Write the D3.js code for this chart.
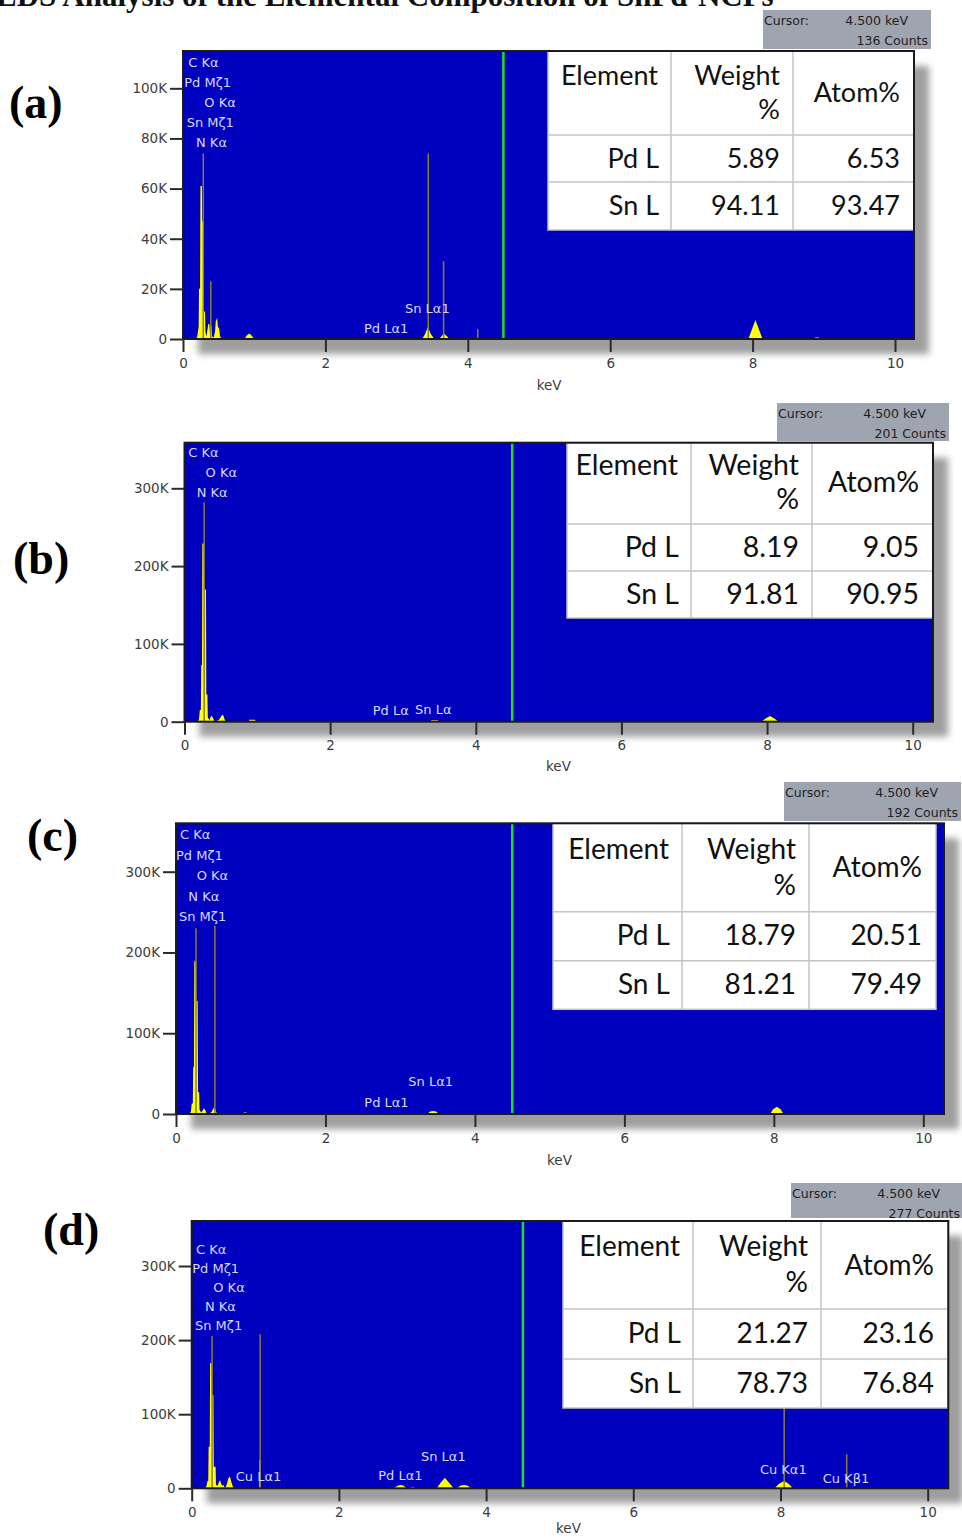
<!DOCTYPE html>
<html><head><meta charset="utf-8">
<script src="https://cdn.jsdelivr.net/npm/d3@7"></script>
<style>
html,body{margin:0;padding:0;background:#fff;}
svg{display:block;}
</style></head><body>
<svg id="c" width="962" height="1538"></svg>
<script>
// ================= DATA =================
const titleText = "EDS Analysis of the Elemental Composition of SnPd-NCPs";
const panelNames = ["(a)", "(b)", "(c)", "(d)"];
const xTicks = [0, 2, 4, 6, 8, 10];
const yTicksA = [0, 20, 40, 60, 80, 100];          // thousands of counts
const yTicksBCD = [0, 100, 200, 300];              // thousands of counts
const cursorKeV = 4.5;
const cursorCounts = [136, 201, 192, 277];
const tableHeader = ["Element", "Weight %", "Atom%"];
const elements = ["Pd L", "Sn L"];
const weightA = ["5.89", "94.11"],  atomA = ["6.53", "93.47"];
const weightB = ["8.19", "91.81"],  atomB = ["9.05", "90.95"];
const weightC = ["18.79", "81.21"], atomC = ["20.51", "79.49"];
const weightD = ["21.27", "78.73"], atomD = ["23.16", "76.84"];

// spectra: [keV, counts in thousands]
const specA = [[0,0],[0.18,0],[0.20,1],[0.22,5],[0.225,20],[0.24,20],[0.245,61],[0.265,61],[0.27,47],[0.29,47],[0.295,11],[0.31,11],[0.315,3],[0.33,1],[0.34,3],[0.355,6],[0.37,6],[0.38,2],[0.39,6],[0.40,5],[0.41,1],[0.43,0.5],[0.45,3],[0.46,7],[0.48,8.5],[0.49,5],[0.51,4],[0.52,1],[0.55,0],
  [0.86,0],[0.90,1.5],[0.93,2.2],[0.96,1.5],[1.0,0],
  [3.36,0],[3.40,2],[3.44,4.8],[3.48,2],[3.53,0],
  [3.60,0],[3.64,1.5],[3.67,2],[3.71,1],[3.74,0],
  [7.94,0],[8.04,7.6],[8.14,0],
  [8.86,0],[8.88,0.6],[8.93,0.6],[8.95,0],[10.5,0]];
const specB = [[0,0],[0.18,0],[0.20,3],[0.21,15],[0.225,15],[0.23,73],[0.24,73],[0.245,229],[0.265,229],[0.27,170],[0.295,170],[0.30,35],[0.315,35],[0.32,6],[0.34,2],[0.36,6],[0.37,8],[0.39,5],[0.41,1],[0.44,0.5],[0.48,3],[0.51,8],[0.53,9],[0.55,3],[0.57,0],
  [0.88,0],[0.89,2.5],[0.97,2.5],[0.98,0],
  [3.38,0],[3.39,2],[3.48,2],[3.49,0],
  [7.92,0],[7.98,4],[8.04,7.3],[8.10,4],[8.16,0],[10.5,0]];
const specC = [[0,0],[0.18,0],[0.20,3],[0.21,13],[0.225,13],[0.23,58],[0.24,58],[0.245,189],[0.265,189],[0.27,140],[0.29,140],[0.295,27],[0.31,27],[0.315,5],[0.34,2],[0.36,5],[0.375,7],[0.39,5],[0.41,1],[0.45,0.5],[0.48,3],[0.50,7],[0.52,7],[0.54,2],[0.56,0],
  [0.89,0],[0.91,2],[0.94,2],[0.96,0],
  [3.36,0],[3.40,3],[3.44,3.7],[3.48,3],[3.52,0],
  [3.63,0],[3.67,1],[3.70,0],
  [7.95,0],[7.99,6],[8.04,9],[8.09,6],[8.13,0],[10.5,0]];
const specD = [[0,0],[0.18,0],[0.20,3],[0.215,10],[0.225,10],[0.23,56],[0.245,56],[0.25,169],[0.27,169],[0.275,126],[0.295,126],[0.30,29],[0.325,29],[0.33,5],[0.35,3],[0.37,8],[0.385,11],[0.40,6],[0.42,3],[0.43,5],[0.44,2],[0.46,1],[0.48,6],[0.50,14],[0.52,15.6],[0.54,8],[0.56,2],[0.58,0],
  [0.915,0],[0.92,38],[0.935,38],[0.94,0],
  [2.74,0],[2.80,3.5],[2.84,4.5],[2.88,3.5],[2.92,0],
  [2.96,0],[3.00,2],[3.04,0],
  [3.33,0],[3.38,7],[3.44,14.3],[3.50,7],[3.56,0],
  [3.60,0],[3.65,3.5],[3.70,4.5],[3.75,3.5],[3.80,0],
  [7.92,0],[7.98,6],[8.05,9.8],[8.11,6],[8.17,0],[10.5,0]];

// element marker lines: [keV, height in thousands]
const markersA = [[0.285,74],[0.39,23],[3.445,74],[3.66,31],[4.14,4]];
const markersB = [[0.27,282]];
const markersC = [[0.268,230],[0.52,233]];
const markersD = [[0.277,206],[0.93,208],[8.05,215],[8.90,46]];

// peak labels: [text, keV, counts(thousands)] anchor of the text start / baseline
const labelsA = [["C Kα",0.074,108.6],["Pd Mζ1",0.018,100.4],["O Kα",0.30,92.4],["Sn Mζ1",0.052,84.4],["N Kα",0.183,76.5],["Sn Lα1",3.118,10.5],["Pd Lα1",2.542,2.3]];
const labelsB = [["C Kα",0.052,340],["O Kα",0.29,314],["N Kα",0.167,289],["Pd Lα",2.585,8.6],["Sn Lα",3.166,9.5]];
const labelsC = [["C Kα",0.054,340],["Pd Mζ1",0.0,315],["O Kα",0.277,289.6],["N Kα",0.165,264],["Sn Mζ1",0.04,239],["Sn Lα1",3.109,34.7],["Pd Lα1",2.52,9]];
const labelsD = [["C Kα",0.058,316],["Pd Mζ1",0.008,290],["O Kα",0.293,264.5],["N Kα",0.18,239],["Sn Mζ1",0.045,213.6],["Cu Lα1",0.598,9.9],["Pd Lα1",2.535,11.2],["Sn Lα1",3.115,36.8],["Cu Kα1",7.72,18.9],["Cu Kβ1",8.573,7.6]];

// ================= LAYOUT (pixels) =================
const layout = [
  {plot:[183,51,914,339], x10:895, yRef:[100,88.3], tx:[548,671,793,914], ty:[51,135,182,230], tfs:27, cur:[763,10,931,49], lab:[9,118], keV:[536.7,390]},
  {plot:[184.5,442.7,933,721.7], x10:912.7, yRef:[300,488.3], tx:[567,691,812,933], ty:[442.7,524,571,618], tfs:28.5, cur:[777,403,949,441], lab:[13,574], keV:[546,771]},
  {plot:[176,823.3,944,1114], x10:923.3, yRef:[300,871.7], tx:[553,682,809,936], ty:[823.3,911.7,960.7,1009.3], tfs:28, cur:[784,782,961,821], lab:[27,851], keV:[547,1165]},
  {plot:[191.7,1221,948.3,1488.3], x10:927.7, yRef:[300,1266], tx:[563,693,821,948], ty:[1221,1309,1359,1408], tfs:28, cur:[791,1183,963,1218], lab:[43,1245], keV:[556,1533]}
];

const panels = [
  {spec:specA, markers:markersA, labels:labelsA, weight:weightA, atom:atomA, yTicks:yTicksA},
  {spec:specB, markers:markersB, labels:labelsB, weight:weightB, atom:atomB, yTicks:yTicksBCD},
  {spec:specC, markers:markersC, labels:labelsC, weight:weightC, atom:atomC, yTicks:yTicksBCD},
  {spec:specD, markers:markersD, labels:labelsD, weight:weightD, atom:atomD, yTicks:yTicksBCD}
];

// ================= DRAW =================
const svg = d3.select("#c");
const defs = svg.append("defs");
defs.append("filter").attr("id","blur").attr("x","-10%").attr("y","-10%").attr("width","130%").attr("height","130%")
  .append("feGaussianBlur").attr("stdDeviation",3.5);

svg.append("text").attr("x",-4).attr("y",6)
  .attr("font-family","Liberation Serif").attr("font-weight","bold").attr("font-size",31)
  .attr("fill","#111").text(titleText);

const tickFont = "DejaVu Sans";

panels.forEach((p,i) => {
  const L = layout[i];
  const [x0,y0,x1,y1] = L.plot;
  const x = d3.scaleLinear().domain([0,10]).range([x0, L.x10]);
  const y = d3.scaleLinear().domain([0, L.yRef[0]]).range([y1, L.yRef[1]]);
  const g = svg.append("g");

  // drop shadow
  g.append("rect").attr("x",x0+15).attr("y",y0+15).attr("width",x1-x0).attr("height",y1-y0)
    .attr("fill","#9e9e9e").attr("filter","url(#blur)");
  // plot background
  g.append("rect").attr("x",x0).attr("y",y0).attr("width",x1-x0).attr("height",y1-y0).attr("fill","#0000bf");

  defs.append("clipPath").attr("id","clip"+i).append("rect")
    .attr("x",x0).attr("y",y0).attr("width",x1-x0).attr("height",y1-y0);
  const inner = g.append("g").attr("clip-path",`url(#clip${i})`);

  const area = d3.area().x(d => x(d[0])).y0(y(0)).y1(d => y(d[1])).curve(d3.curveLinear);
  inner.append("path").datum(p.spec).attr("d",area).attr("fill","#ffff00");

  inner.selectAll("line.mk").data(p.markers).join("line").attr("class","mk")
    .attr("x1",d => x(d[0])).attr("x2",d => x(d[0]))
    .attr("y1",y(0)).attr("y2",d => y(d[1]))
    .attr("stroke","#8a7d3c").attr("stroke-width",1.5);

  inner.append("line").attr("x1",x(cursorKeV)).attr("x2",x(cursorKeV)).attr("y1",y0).attr("y2",y1)
    .attr("stroke","#1fe01f").attr("stroke-width",2.5);

  inner.selectAll("text.pk").data(p.labels).join("text").attr("class","pk")
    .attr("x",d => x(d[1])).attr("y",d => y(d[2]))
    .attr("font-family",tickFont).attr("font-size",13).attr("fill","#d8d8ff")
    .text(d => d[0]);

  // table
  const tg = g.append("g");
  const tx = L.tx, ty = L.ty;
  tg.append("rect").attr("x",tx[0]).attr("y",ty[0]).attr("width",tx[3]-tx[0]).attr("height",ty[3]-ty[0])
    .attr("fill","#ffffff").attr("stroke","#c4c4c4").attr("stroke-width",1.5);
  [1,2].forEach(k => tg.append("line").attr("x1",tx[k]).attr("x2",tx[k]).attr("y1",ty[0]).attr("y2",ty[3]).attr("stroke","#c4c4c4").attr("stroke-width",1.5));
  [1,2].forEach(k => tg.append("line").attr("x1",tx[0]).attr("x2",tx[3]).attr("y1",ty[k]).attr("y2",ty[k]).attr("stroke","#c4c4c4").attr("stroke-width",1.5));
  const tfont = (sel) => sel.attr("font-family","Lato").attr("font-size",L.tfs).attr("fill","#111").attr("text-anchor","end");
  const H = ty[1]-ty[0];
  // header
  tg.append("text").call(tfont).attr("x",tx[1]-13).attr("y",ty[0]+H*0.40).text(tableHeader[0]);
  const wParts = tableHeader[1].split(" ");
  tg.append("text").call(tfont).attr("x",tx[2]-13).attr("y",ty[0]+H*0.40).text(wParts[0]);
  tg.append("text").call(tfont).attr("x",tx[2]-13).attr("y",ty[0]+H*0.81).text(wParts[1]);
  tg.append("text").call(tfont).attr("x",tx[3]-14).attr("y",ty[0]+H*0.61).text(tableHeader[2]);
  elements.forEach((el,r) => {
    const cy = (ty[r+1]+ty[r+2])/2 + 9;
    tg.append("text").call(tfont).attr("x",tx[1]-12).attr("y",cy).text(el);
    tg.append("text").call(tfont).attr("x",tx[2]-13).attr("y",cy).text(p.weight[r]);
    tg.append("text").call(tfont).attr("x",tx[3]-14).attr("y",cy).text(p.atom[r]);
  });

  // border
  g.append("rect").attr("x",x0).attr("y",y0).attr("width",x1-x0).attr("height",y1-y0)
    .attr("fill","none").attr("stroke","#1a1a1a").attr("stroke-width",2);

  // axes
  const yAxis = d3.axisLeft(y).tickValues(p.yTicks).tickSize(13).tickPadding(3)
    .tickFormat(d => d === 0 ? "0" : d + "K");
  const ya = g.append("g").attr("transform",`translate(${x0},0)`).call(yAxis);
  const xAxis = d3.axisBottom(x).tickValues(xTicks).tickSize(13).tickPadding(6);
  const xa = g.append("g").attr("transform",`translate(0,${y1})`).call(xAxis);
  [ya,xa].forEach(a => {
    a.select(".domain").remove();
    a.selectAll(".tick line").attr("stroke","#2a2a2a").attr("stroke-width",2);
    a.selectAll(".tick text").attr("font-family",tickFont).attr("font-size",13.5).attr("fill","#3c3c3c");
  });

  g.append("text").attr("x",L.keV[0]).attr("y",L.keV[1]).attr("font-family",tickFont).attr("font-size",13.5)
    .attr("fill","#3c3c3c").text("keV");

  // cursor box
  const c = L.cur;
  g.append("rect").attr("x",c[0]).attr("y",c[1]).attr("width",c[2]-c[0]).attr("height",c[3]-c[1]).attr("fill","#9fa5b0");
  const cf = sel => sel.attr("font-family",tickFont).attr("font-size",12.5).attr("fill","#1e1e1e");
  g.append("text").call(cf).attr("x",c[0]+1).attr("y",c[1]+15).text("Cursor:");
  g.append("text").call(cf).attr("x",c[2]-23).attr("y",c[1]+15).attr("text-anchor","end").text(d3.format(".3f")(cursorKeV) + " keV");
  g.append("text").call(cf).attr("x",c[2]-3).attr("y",c[1]+35).attr("text-anchor","end").text(cursorCounts[i] + " Counts");

  // panel label
  svg.append("text").attr("x",L.lab[0]).attr("y",L.lab[1]).attr("font-family","Liberation Serif")
    .attr("font-weight","bold").attr("font-size",46).attr("fill","#000").text(panelNames[i]);
});
</script>
</body></html>
